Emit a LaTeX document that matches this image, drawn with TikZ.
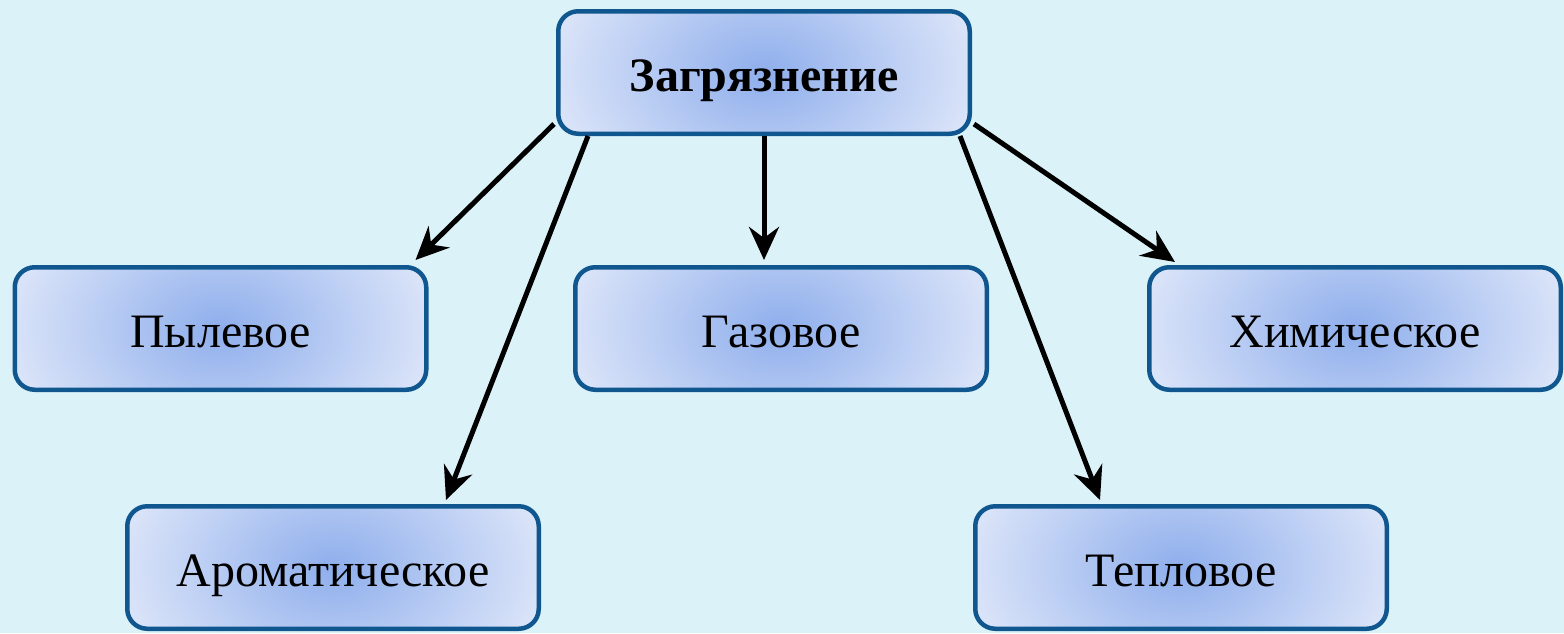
\documentclass[tikz,border=0pt]{standalone}
\usepackage{fontspec}
\setmainfont{Liberation Serif}
\usetikzlibrary{arrows.meta,calc}
\definecolor{bgc}{HTML}{DBF3F8}
\definecolor{bordc}{HTML}{11578F}
\definecolor{innc}{HTML}{8EAEEC}
\definecolor{outc}{HTML}{DCE5F9}
\tikzset{
  box/.style={draw=bordc, line width=4.5pt, rounded corners=20pt,
    fill=outc,
    path picture={\shade[inner color=innc, outer color=outc]
      (path picture bounding box.center) ellipse [x radius=218pt, y radius=150pt];},
    minimum width=411.5pt, minimum height=122.5pt, inner sep=0pt,
    text height=45pt, text depth=8pt,
    font=\fontsize{48}{58}\selectfont},
  arr/.style={line width=5pt, draw=black,
    -{Stealth[length=33pt, width=30pt, inset=11pt]}}
}
\begin{document}
\begin{tikzpicture}[x=1pt,y=-1pt]
\fill[bgc] (0,0) rectangle (1564,633);
\useasboundingbox (0,0) rectangle (1564,633);
\node[box, font=\fontsize{48}{58}\selectfont\bfseries] (top) at (764,72.5) {Загрязнение};
\node[box] (pyl) at (220.5,328.5) {Пылевое};
\node[box] (gaz) at (781,328.5) {Газовое};
\node[box] (him) at (1355,328.5) {Химическое};
\node[box] (arom) at (333,567.5) {Ароматическое};
\node[box] (tep) at (1181,567.5) {Тепловое};
\draw[arr] ([xshift=-2pt,yshift=12pt]top.south west) -- ([xshift=-13pt,yshift=5pt]pyl.north east);
\draw[arr] ([xshift=32pt]top.south west) -- ([xshift=113pt,yshift=4pt]arom.north);
\draw[arr] (top.south) -- ([xshift=-17pt,yshift=5pt]gaz.north);
\draw[arr] ([xshift=-12pt]top.south east) -- ([xshift=-81pt,yshift=4pt]tep.north);
\draw[arr] ([xshift=2pt,yshift=12pt]top.south east) -- ([xshift=28pt,yshift=3pt]him.north west);
\end{tikzpicture}
\end{document}
